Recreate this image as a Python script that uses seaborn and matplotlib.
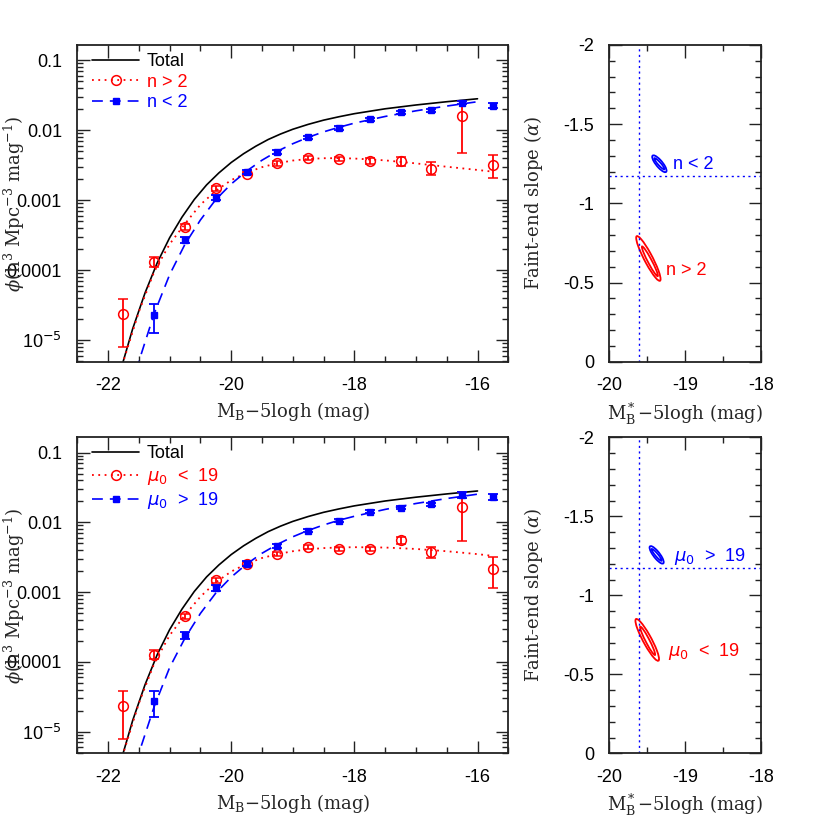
import numpy as np
import matplotlib
matplotlib.use('Agg')
import matplotlib.pyplot as plt
import seaborn as sns
from matplotlib.lines import Line2D
from matplotlib.patches import Ellipse
from matplotlib.ticker import (FixedLocator, FixedFormatter, MultipleLocator,
                               LogLocator, NullFormatter)

# binned luminosity function points (mag bins)
mag_bins = [-21.75, -21.25, -20.75, -20.25, -19.75, -19.25, -18.75,
            -18.25, -17.75, -17.25, -16.75, -16.25, -15.75]
mag_bins_blue = mag_bins[1:]

# top row: split by Sersic index
phi_n_gt2 = [2.35e-5, 1.31e-4, 4.16e-4, 1.47e-3, 2.40e-3, 3.34e-3, 4.0e-3,
             3.85e-3, 3.6e-3, 3.6e-3, 2.8e-3, 1.58e-2, 3.2e-3]
phi_n_gt2_lo = [8e-6, 1.1e-4, 3.8e-4, 1.35e-3, 2.25e-3, 3.1e-3, 3.75e-3,
                3.6e-3, 3.3e-3, 3.1e-3, 2.25e-3, 4.7e-3, 2.05e-3]
phi_n_gt2_hi = [3.9e-5, 1.55e-4, 4.6e-4, 1.6e-3, 2.56e-3, 3.6e-3, 4.3e-3,
                4.1e-3, 3.95e-3, 4.15e-3, 3.45e-3, 2.6e-2, 4.4e-3]

phi_n_lt2 = [2.27e-5, 2.68e-4, 1.09e-3, 2.54e-3, 4.85e-3, 7.9e-3, 1.08e-2,
             1.44e-2, 1.81e-2, 1.91e-2, 2.47e-2, 2.25e-2]
phi_n_lt2_lo = [1.27e-5, 2.45e-4, 1.0e-3, 2.38e-3, 4.55e-3, 7.5e-3, 1.02e-2,
                1.37e-2, 1.73e-2, 1.82e-2, 2.35e-2, 2.07e-2]
phi_n_lt2_hi = [3.3e-5, 2.95e-4, 1.19e-3, 2.72e-3, 5.2e-3, 8.35e-3, 1.14e-2,
                1.51e-2, 1.9e-2, 2.0e-2, 2.6e-2, 2.45e-2]

# bottom row: split by central surface brightness
phi_mu_lt19 = [2.33e-5, 1.26e-4, 4.49e-4, 1.47e-3, 2.51e-3, 3.49e-3, 4.4e-3,
               4.11e-3, 4.11e-3, 5.53e-3, 3.77e-3, 1.66e-2, 2.13e-3]
phi_mu_lt19_lo = [7.9e-6, 1.1e-4, 4.1e-4, 1.35e-3, 2.35e-3, 3.25e-3, 4.1e-3,
                  3.85e-3, 3.85e-3, 4.9e-3, 3.1e-3, 5.47e-3, 1.14e-3]
phi_mu_lt19_hi = [3.8e-5, 1.5e-4, 4.9e-4, 1.6e-3, 2.7e-3, 3.75e-3, 4.7e-3,
                  4.4e-3, 4.4e-3, 6.2e-3, 4.5e-3, 2.74e-2, 3.16e-3]

phi_mu_gt19 = [2.74e-5, 2.4e-4, 1.14e-3, 2.54e-3, 4.59e-3, 7.6e-3, 1.06e-2,
               1.42e-2, 1.62e-2, 1.83e-2, 2.45e-2, 2.33e-2]
phi_mu_gt19_lo = [1.62e-5, 2.15e-4, 1.05e-3, 2.35e-3, 4.3e-3, 7.2e-3, 1.0e-2,
                  1.35e-2, 1.55e-2, 1.74e-2, 2.25e-2, 2.1e-2]
phi_mu_gt19_hi = [3.8e-5, 2.7e-4, 1.25e-3, 2.75e-3, 4.9e-3, 8.0e-3, 1.12e-2,
                  1.49e-2, 1.7e-2, 1.92e-2, 2.68e-2, 2.55e-2]

# fitted curves
mag_total = [-21.8, -21.6, -21.4, -21.2, -21.0, -20.8, -20.6, -20.4, -20.2,
             -20.0, -19.8, -19.6, -19.4, -19.2, -19.0, -18.75, -18.5, -18.25,
             -18.0, -17.5, -17.0, -16.5, -16.0]
phi_total = [3.6e-6, 1.45e-5, 4.7e-5, 1.28e-4, 2.9e-4, 5.7e-4, 1.02e-3,
             1.65e-3, 2.45e-3, 3.45e-3, 4.6e-3, 5.9e-3, 7.35e-3, 8.8e-3,
             1.03e-2, 1.21e-2, 1.39e-2, 1.555e-2, 1.72e-2, 2.02e-2, 2.29e-2,
             2.55e-2, 2.81e-2]

mag_fit_red = [-21.8, -21.5, -21.25, -21.0, -20.75, -20.5, -20.25, -20.0,
               -19.75, -19.5, -19.25, -19.0, -18.75, -18.5, -18.25, -18.0,
               -17.5, -17.0, -16.5, -16.0, -15.75]
fit_n_gt2 = [3.6e-6, 2.53e-5, 9.5e-5, 2.35e-4, 4.6e-4, 8.6e-4, 1.36e-3,
             1.93e-3, 2.47e-3, 2.96e-3, 3.37e-3, 3.68e-3, 3.87e-3, 3.97e-3,
             3.98e-3, 3.93e-3, 3.7e-3, 3.35e-3, 3.0e-3, 2.7e-3, 2.55e-3]
fit_mu_lt19 = [3.6e-6, 2.55e-5, 9.5e-5, 2.4e-4, 4.7e-4, 8.6e-4, 1.38e-3,
               1.97e-3, 2.55e-3, 3.08e-3, 3.5e-3, 3.85e-3, 4.1e-3, 4.27e-3,
               4.36e-3, 4.4e-3, 4.35e-3, 4.15e-3, 3.85e-3, 3.5e-3, 3.3e-3]

mag_fit_blue = [-21.55, -21.25, -21.0, -20.75, -20.5, -20.25, -20.0, -19.75,
                -19.5, -19.25, -19.0, -18.75, -18.5, -18.25, -18.0, -17.5,
                -17.0, -16.5, -16.0]
fit_n_lt2 = [3.6e-6, 2.4e-5, 8.6e-5, 2.35e-4, 5.2e-4, 1.02e-3, 1.7e-3, 2.6e-3,
             3.72e-3, 5.0e-3, 6.4e-3, 7.9e-3, 9.45e-3, 1.1e-2, 1.26e-2,
             1.57e-2, 1.89e-2, 2.21e-2, 2.55e-2]
fit_mu_gt19 = [3.6e-6, 2.3e-5, 8.3e-5, 2.2e-4, 4.95e-4, 9.7e-4, 1.64e-3,
               2.52e-3, 3.6e-3, 4.83e-3, 6.2e-3, 7.65e-3, 9.15e-3, 1.07e-2,
               1.22e-2, 1.53e-2, 1.86e-2, 2.19e-2, 2.53e-2]

# Schechter parameter contours: centre M*, centre alpha, length, width, angle
total_mstar = -19.61
total_alpha = -1.172
cont_n_lt2 = [(-19.34, -1.25, 0.21, 0.055, 26.7), (-19.34, -1.25, 0.15, 0.024, 26.7)]
cont_n_gt2 = [(-19.485, -0.652, 0.42, 0.085, 41.0), (-19.465, -0.634, 0.28, 0.04, 41.5)]
cont_mu_gt19 = [(-19.376, -1.256, 0.21, 0.055, 28.4), (-19.376, -1.256, 0.15, 0.024, 28.4)]
cont_mu_lt19 = [(-19.50, -0.718, 0.40, 0.085, 40.0), (-19.495, -0.712, 0.265, 0.04, 42.0)]

lf_ticks = [1e-5, 1e-4, 1e-3, 1e-2, 0.1]
lf_ticklabels = ['10$^{-5}$', '0.0001', '0.001', '0.01', '0.1']
alpha_ticks = [-2, -1.5, -1, -0.5, 0]
alpha_ticklabels = ['-2', '-1.5', '-1', '-0.5', '0']

RED = '#ff0000'
BLUE = '#0000ff'
DOT = (0, (1, 2.5))
DASH = (0, (6.5, 4.2))

sns.set_theme(style='ticks')
plt.rcParams['font.family'] = ['Liberation Sans', 'DejaVu Sans']
plt.rcParams['axes.unicode_minus'] = False
plt.rcParams['axes.linewidth'] = 1.3
plt.rcParams['axes.edgecolor'] = '#222222'

LABEL_FONT = dict(family='DejaVu Serif', size=13, math_fontfamily='dejavuserif')


def style_axes(ax):
    ax.tick_params(which='both', direction='in', top=True, right=True,
                   labelsize=13, colors='#222222', labelcolor='black')
    ax.tick_params(which='major', length=9, width=1.0, pad=11)
    ax.tick_params(which='minor', length=4.6, width=1.0)


def draw_lf(ax, red, blue, fit_red, fit_blue, red_label, blue_label):
    ax.set_yscale('log')
    sns.lineplot(x=mag_total, y=phi_total, ax=ax, color='black', lw=1.2)
    sns.lineplot(x=mag_fit_red, y=fit_red, ax=ax, color=RED, lw=1.3, linestyle=DOT)
    sns.lineplot(x=mag_fit_blue, y=fit_blue, ax=ax, color=BLUE, lw=1.2, linestyle=DASH)

    y, lo, hi = (np.array(v) for v in red)
    ax.errorbar(mag_bins, y, yerr=[y - lo, hi - y], fmt='o', ms=7, mfc='none',
                mec=RED, mew=1.1, ecolor=RED, elinewidth=1.3, capsize=3.6,
                capthick=1.3, zorder=4)
    y, lo, hi = (np.array(v) for v in blue)
    ax.errorbar(mag_bins_blue, y, yerr=[y - lo, hi - y], fmt='s', ms=5,
                color=BLUE, ecolor=BLUE, elinewidth=1.3, capsize=3.6,
                capthick=1.3, zorder=5)

    ax.set_xlim(-22.5, -15.5)
    ax.set_ylim(4.9e-6, 0.165)
    ax.xaxis.set_major_locator(MultipleLocator(2))
    ax.xaxis.set_minor_locator(MultipleLocator(0.5))
    ax.yaxis.set_major_locator(FixedLocator(lf_ticks))
    ax.yaxis.set_major_formatter(FixedFormatter(lf_ticklabels))
    ax.yaxis.set_minor_locator(LogLocator(base=10, subs=np.arange(2, 10)))
    ax.yaxis.set_minor_formatter(NullFormatter())
    style_axes(ax)

    handles = [
        Line2D([], [], color='black', lw=1.2),
        Line2D([], [], color=RED, lw=1.3, linestyle=DOT, marker='o', ms=7,
               mfc='none', mec=RED, mew=1.1),
        Line2D([], [], color=BLUE, lw=1.2, linestyle=DASH, marker='s', ms=5),
    ]
    ax.legend(handles, ['Total', red_label, blue_label], loc='upper left',
              bbox_to_anchor=(0.035, 0.975), frameon=False, fontsize=13,
              handlelength=2.6, handletextpad=0.4, labelspacing=0.2,
              borderpad=0, borderaxespad=0, numpoints=1, labelcolor='linecolor')

    ax.set_xlabel(r'M$_\mathrm{B}$$-$5logh (mag)', **LABEL_FONT)
    ax.xaxis.set_label_coords(0.5, -0.122)
    ax.set_ylabel(r'$\phi$(h$^3$ Mpc$^{-3}$ mag$^{-1}$)', **LABEL_FONT)
    ax.yaxis.label.set_va('center')
    ax.yaxis.set_label_coords(-0.147, 0.5)


def draw_contours(ax, blue_cont, red_cont, blue_text, red_text):
    ax.axvline(total_mstar, color=BLUE, lw=1.0, linestyle=(0, (1.5, 2.5)))
    ax.axhline(total_alpha, color=BLUE, lw=1.0, linestyle=(0, (1.5, 2.5)))
    for conts, col in ((blue_cont, BLUE), (red_cont, RED)):
        for cx, cy, length, width, ang in conts:
            ax.add_patch(Ellipse((cx, cy), length, width, angle=ang,
                                 fill=False, ec=col, lw=1.3))
    ax.text(blue_text[0], blue_text[1], blue_text[2], color=BLUE, fontsize=13,
            ha='left', va='center')
    ax.text(red_text[0], red_text[1], red_text[2], color=RED, fontsize=13,
            ha='left', va='center')

    ax.set_xlim(-20, -18)
    ax.set_ylim(0, -2)
    ax.xaxis.set_major_locator(MultipleLocator(1))
    ax.xaxis.set_minor_locator(MultipleLocator(0.5))
    ax.yaxis.set_major_locator(FixedLocator(alpha_ticks))
    ax.yaxis.set_major_formatter(FixedFormatter(alpha_ticklabels))
    ax.yaxis.set_minor_locator(MultipleLocator(0.1))
    style_axes(ax)

    ax.set_xlabel(r'M$^*_\mathrm{B}$$-$5logh (mag)', **LABEL_FONT)
    ax.xaxis.set_label_coords(0.5, -0.122)
    ax.set_ylabel(r'Faint-end slope ($\alpha$)', **LABEL_FONT)
    ax.yaxis.label.set_va('center')
    ax.yaxis.set_label_coords(-0.50, 0.5)


fig = plt.figure(figsize=(8.3, 8.3), dpi=100)
ax_tl = fig.add_axes([0.0931, 0.5642, 0.5193, 0.3816])
ax_tr = fig.add_axes([0.7341, 0.5642, 0.1828, 0.3816])
ax_bl = fig.add_axes([0.0931, 0.0924, 0.5193, 0.3807])
ax_br = fig.add_axes([0.7341, 0.0924, 0.1828, 0.3807])

draw_lf(ax_tl, (phi_n_gt2, phi_n_gt2_lo, phi_n_gt2_hi),
        (phi_n_lt2, phi_n_lt2_lo, phi_n_lt2_hi), fit_n_gt2, fit_n_lt2,
        'n > 2', 'n < 2')
draw_lf(ax_bl, (phi_mu_lt19, phi_mu_lt19_lo, phi_mu_lt19_hi),
        (phi_mu_gt19, phi_mu_gt19_lo, phi_mu_gt19_hi), fit_mu_lt19, fit_mu_gt19,
        r'$\mu_0$  <  19', r'$\mu_0$  >  19')
draw_contours(ax_tr, cont_n_lt2, cont_n_gt2,
              (-19.165, -1.248, 'n < 2'), (-19.255, -0.575, 'n > 2'))
draw_contours(ax_br, cont_mu_gt19, cont_mu_lt19,
              (-19.15, -1.248, r'$\mu_0$  >  19'), (-19.225, -0.645, r'$\mu_0$  <  19'))

fig.savefig('out.png', dpi=100)
